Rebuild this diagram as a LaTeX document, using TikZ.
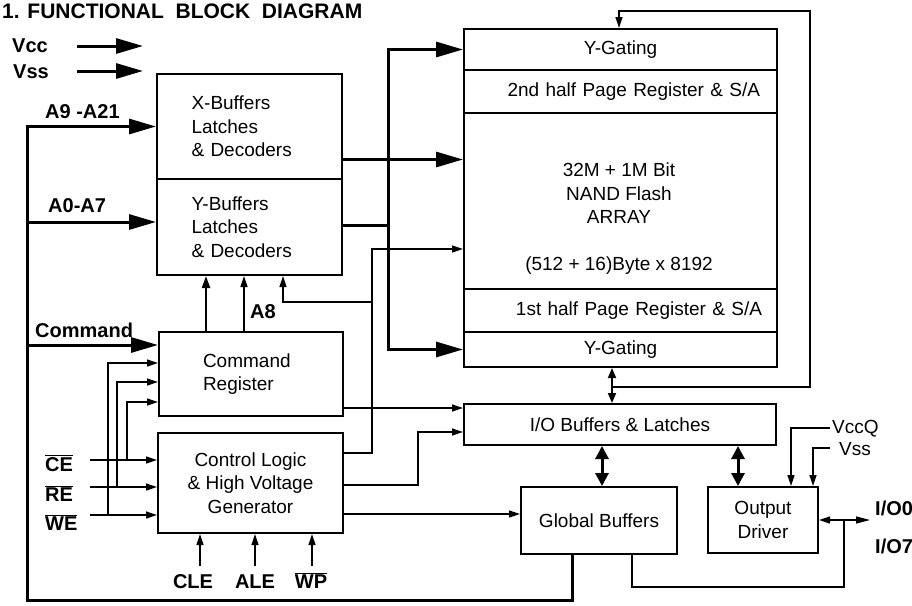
\documentclass[tikz,border=0pt]{standalone}
\usepackage{fontspec}
\setmainfont{Liberation Sans}
\usetikzlibrary{arrows.meta}
\newcommand{\ovl}[1]{$\overline{\hbox{#1}}$}

\begin{document}
\begin{tikzpicture}[x=1pt,y=-1pt,
    every node/.style={font=\fontsize{19}{23.5}\selectfont},
    blk/.style={draw,line width=2pt,inner sep=0pt,align=center},
    lbl/.style={font=\bfseries\fontsize{20}{24}\selectfont,inner sep=0pt},
    bus/.style={line width=3pt,-{Triangle[length=27pt,width=15pt]}},
    busline/.style={line width=3pt},
    wire/.style={line width=1.3pt,-{Triangle[length=11pt,width=7pt]}},
    thickwire/.style={line width=2.2pt,-{Triangle[length=12pt,width=8pt]}},
    line/.style={line width=1.3pt},
    dwire/.style={line width=1.8pt,{Triangle[length=10pt,width=8pt]}-{Triangle[length=10pt,width=8pt]}},
    bigd/.style={line width=3pt,{Triangle[length=13pt,width=13pt]}-{Triangle[length=13pt,width=13pt]}},
    dsmall/.style={line width=1.3pt,{Triangle[length=11pt,width=7pt]}-{Triangle[length=14pt,width=7pt]}}]
  \useasboundingbox (0,0) rectangle (912,605);
  \node[lbl,font=\bfseries\fontsize{21}{26}\selectfont,anchor=base west] (title) at (2,18) {1. FUNCTIONAL~~BLOCK~~DIAGRAM};

  % blocks
  \node[blk,minimum width=185pt,minimum height=105pt,text width=116pt,align=left] (xbuf) at (249.5,126.5) {X-Buffers\\Latches\\\& Decoders};
  \node[blk,minimum width=185pt,minimum height=96pt,text width=116pt,align=left] (ybuf) at (249.5,227) {Y-Buffers\\Latches\\\& Decoders};
  \node[blk,minimum width=184pt,minimum height=84pt,text width=96pt,align=left] (cmdreg) at (251,374) {Command\\Register};
  \node[blk,minimum width=185pt,minimum height=100pt] (ctrl) at (250.5,483) {Control Logic\\\& High Voltage\\Generator};
  \node[blk,minimum width=313pt,minimum height=41pt] (ygt) at (620.5,49.5) {Y-Gating};
  \node[blk,minimum width=313pt,minimum height=43pt,text width=279pt,align=right] (reg2) at (620.5,91.5) {2nd half Page Register \& S/A};
  \node[blk,minimum width=313pt,minimum height=176pt] (arr) at (620.5,201) {};
  \node[align=center] (arrtxt) at (619,219) {32M + 1M Bit\\NAND Flash\\ARRAY\\[23.5pt](512 + 16)Byte x 8192};
  \node[blk,minimum width=313pt,minimum height=43pt,text width=283pt,align=right] (reg1) at (620.5,310.5) {1st half Page Register \& S/A};
  \node[blk,minimum width=313pt,minimum height=35pt] (ygb) at (620.5,349.5) {Y-Gating};
  \node[blk,minimum width=312pt,minimum height=41pt] (iobuf) at (620,424.5) {I/O Buffers \& Latches};
  \node[blk,minimum width=156pt,minimum height=67pt] (glob) at (599,520.5) {Global Buffers};
  \node[blk,minimum width=110pt,minimum height=66pt] (outdrv) at (763,520) {Output\\Driver};

  % pin labels
  \node[lbl,anchor=base west] (vcc) at (12,52) {Vcc};
  \node[lbl,anchor=base west] (vss) at (13,78) {Vss};
  \node[lbl,anchor=base west] (axlbl) at (45,118) {A9 -A21};
  \node[lbl,anchor=base west] (aylbl) at (48,212) {A0-A7};
  \node[lbl,anchor=base west] (cmdlbl) at (35,337) {Command};
  \node[lbl,anchor=base west] (a8) at (250,318) {A8};
  \node[lbl,anchor=base west] (celbl) at (45,471) {\ovl{CE}};
  \node[lbl,anchor=base west] (relbl) at (45,501) {\ovl{RE}};
  \node[lbl,anchor=base west] (welbl) at (45,530) {\ovl{WE}};
  \node[lbl,anchor=base] (cle) at (193,588) {CLE};
  \node[lbl,anchor=base] (ale) at (255,588) {ALE};
  \node[lbl,anchor=base] (wp) at (311,588) {\ovl{WP}};
  \node[anchor=base west,inner sep=0pt] (vccq) at (832,433) {VccQ};
  \node[anchor=base west,inner sep=0pt] (vssq) at (839,455) {Vss};
  \node[lbl,anchor=base west] (io0) at (875,515) {I/O0};
  \node[lbl,anchor=base west] (io7) at (875,553) {I/O7};

  \coordinate (vccA) at (77,46);  \coordinate (vccB) at (143,46);
  \coordinate (vssA) at (77,71);  \coordinate (vssB) at (143,71);
  \coordinate (lbus) at (27,600);
  \coordinate (ybus) at (388,225);
  \coordinate (cv) at (372,302);
  \coordinate (fb) at (612,387);
  \coordinate (fbr) at (810,11);
  \coordinate (ce) at (90,460);
  \coordinate (re) at (90,487);
  \coordinate (we) at (90,515);
  \coordinate (t1) at (108,0);
  \coordinate (t2) at (117,0);
  \coordinate (t3) at (127,0);
  \coordinate (vccqA) at (830,428);
  \coordinate (vssqA) at (830,448);
  \coordinate (ioend) at (870,520);
  \coordinate (iojn) at (844,520);
  \coordinate (iobot) at (844,587);

  % address / command bus
  \draw[bus] (vccA) -- (vccB);
  \draw[bus] (vssA) -- (vssB);
  \draw[bus] ([xshift=-27pt]glob.south) |- (lbus) |- (xbuf.west);
  \draw[bus] ([yshift=5pt]ybuf.west -| lbus) -- ([yshift=5pt]ybuf.west);
  \draw[bus] ([yshift=29pt]cmdreg.west -| lbus) -- ([yshift=29pt]cmdreg.west);
  \draw[bus] ([yshift=-33pt]xbuf.east) -- ([yshift=-33pt]xbuf.east -| arr.west);
  \draw[busline] ([yshift=2pt]ybuf.east) -- (ybus);
  \draw[bus] (ybus) |- (ygt.west);
  \draw[bus] (ybus) |- (ygb.west);

  % control signals
  \draw[thickwire] ([xshift=-45pt]cmdreg.north) -- ([xshift=-45pt]cmdreg.north |- ybuf.south);
  \draw[wire] ([xshift=-7pt]cmdreg.north) -- ([xshift=-7pt]cmdreg.north |- ybuf.south);
  \draw[wire] ([yshift=30pt]ctrl.east) -| (cv) |- ([yshift=-48pt]arr.west);
  \draw[wire] (cv) -| ([xshift=33.5pt]ybuf.south);
  \draw[wire] ([yshift=-34pt]cmdreg.east) -- ([yshift=-34pt]cmdreg.east -| iobuf.west);
  \draw[wire] ([yshift=-2pt]ctrl.east) -| ([xshift=-45pt,yshift=-7.5pt]iobuf.west) -- ([yshift=-7.5pt]iobuf.west);
  \draw[wire] ([yshift=-31pt]ctrl.east) -- ([yshift=-31pt]ctrl.east -| glob.west);
  \draw[wire] (ce) -- (ce -| ctrl.west);
  \draw[wire] (re) -- (re -| ctrl.west);
  \draw[wire] (we) -- (we -| ctrl.west);
  \draw[wire] (we -| t1) |- ([yshift=11pt]cmdreg.west);
  \draw[wire] (re -| t2) |- ([yshift=-8pt]cmdreg.west);
  \draw[wire] (ce -| t3) |- ([yshift=-28pt]cmdreg.west);
  \draw[wire] ([xshift=-50.5pt,yshift=-32pt]ctrl.south) -- ([xshift=-50.5pt]ctrl.south);
  \draw[wire] ([xshift=4.5pt,yshift=-32pt]ctrl.south) -- ([xshift=4.5pt]ctrl.south);
  \draw[wire] ([xshift=61.5pt,yshift=-32pt]ctrl.south) -- ([xshift=61.5pt]ctrl.south);

  % data path
  \draw[dwire] ([xshift=-8.5pt]ygb.south) -- ([xshift=-8.5pt]ygb.south |- iobuf.north);
  \draw[wire] (fb) -| (fbr) -| ([xshift=-1.5pt]ygt.north);
  \draw[bigd] ([xshift=-18pt]iobuf.south) -- ([xshift=-18pt]iobuf.south |- glob.north);
  \draw[bigd] ([xshift=118pt]iobuf.south) -- ([xshift=118pt]iobuf.south |- outdrv.north);
  \draw[wire] (vccqA) -| ([xshift=28pt]outdrv.north);
  \draw[wire] (vssqA) -| ([xshift=50pt]outdrv.north);
  \draw[dsmall] (outdrv.east) -- (ioend);
  \draw[line] ([xshift=33pt]glob.south) |- (iobot) -- (iojn);
\end{tikzpicture}
\end{document}
